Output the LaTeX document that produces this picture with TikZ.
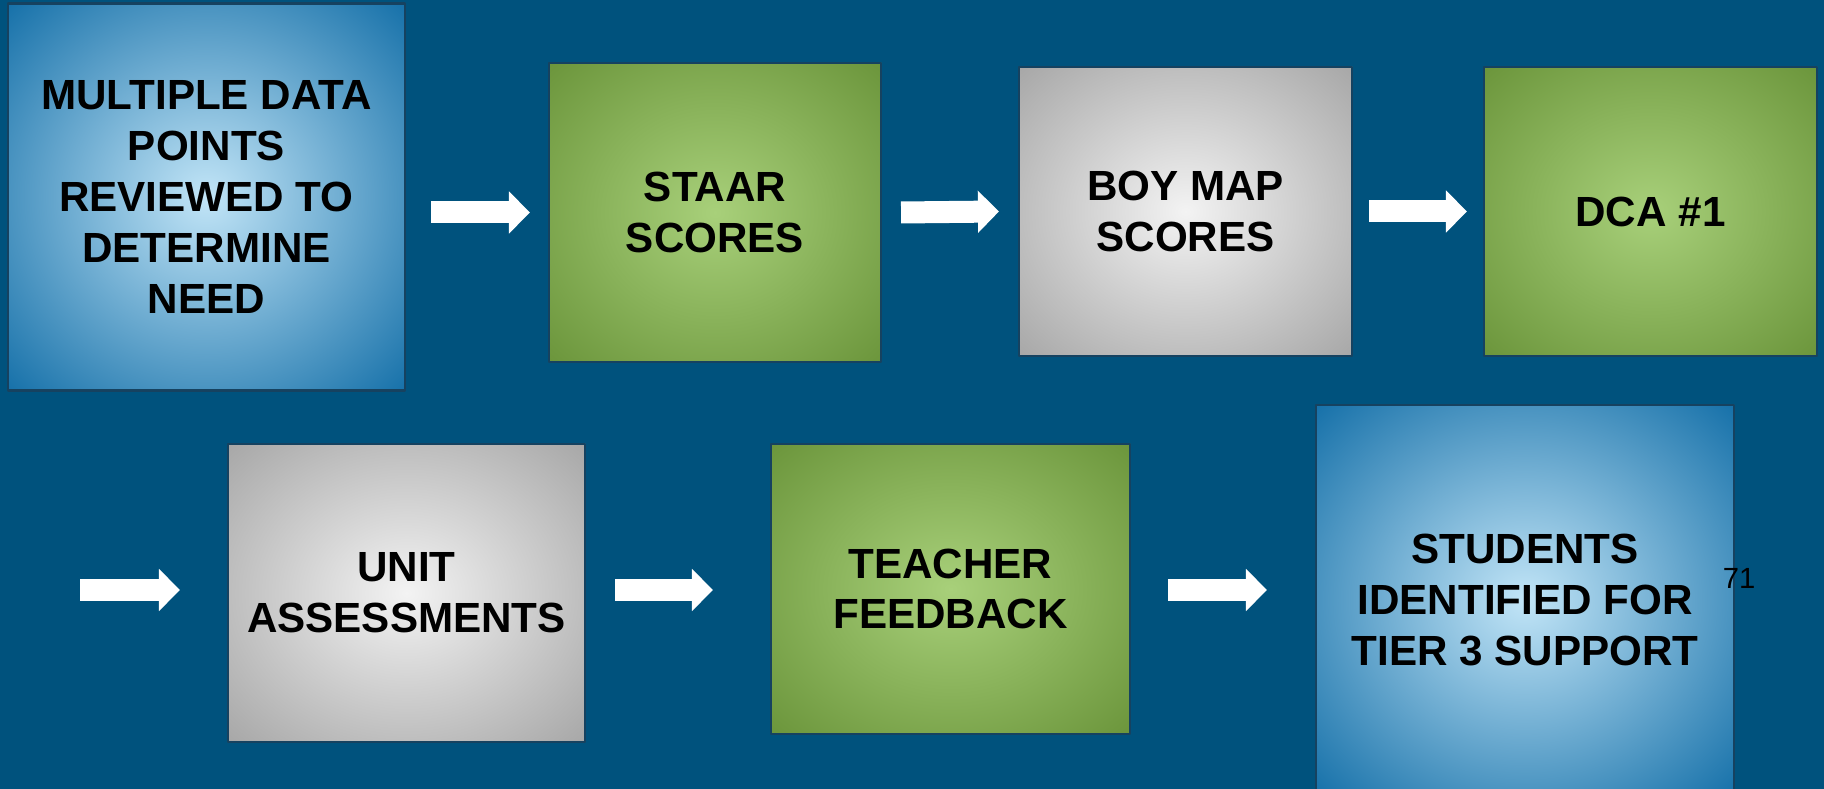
\documentclass[tikz,border=0pt]{standalone}
\usepackage{fontspec}
\setmainfont{Liberation Sans}
\usetikzlibrary{arrows.meta}
\definecolor{slidebg}{RGB}{0,82,125}
\definecolor{boxline}{RGB}{22,66,96}
\definecolor{blueinner}{RGB}{194,229,247}
\definecolor{blueouter}{RGB}{24,114,170}
\definecolor{greeninner}{RGB}{168,208,122}
\definecolor{greenouter}{RGB}{108,150,60}
\definecolor{grayinner}{RGB}{243,243,243}
\definecolor{grayouter}{RGB}{168,168,168}
\pgfdeclareradialshading{blueglow}{\pgfpointorigin}{color(0bp)=(blueinner); color(35bp)=(blueouter); color(50bp)=(blueouter)}
\pgfdeclareradialshading{greenglow}{\pgfpointorigin}{color(0bp)=(greeninner); color(35bp)=(greenouter); color(50bp)=(greenouter)}
\pgfdeclareradialshading{grayglow}{\pgfpointorigin}{color(0bp)=(grayinner); color(35bp)=(grayouter); color(50bp)=(grayouter)}
\begin{document}
\begin{tikzpicture}[line join=round, font=\bfseries\fontsize{12}{14.5}\selectfont,
    box/.style={draw=boxline, line width=.6pt, shade, inner sep=0pt, align=center, text=black},
    blockarrow/.style={white, line width=2.2mm, -{Triangle[length=2.1mm,width=4.1mm]}}]
    \clip (0,0) rectangle (18.24,-7.89);
    \fill[slidebg] (0,0) rectangle (18.24,-7.89);
    % top row
    \node[box, shading=blueglow, minimum width=3.97cm, minimum height=3.87cm] (need) at (2.065,-1.97) {MULTIPLE DATA\\POINTS\\REVIEWED TO\\DETERMINE\\NEED};
    \node[box, shading=greenglow, minimum width=3.32cm, minimum height=2.99cm] (staar) at (7.15,-2.125) {STAAR\\SCORES};
    \node[box, shading=grayglow, minimum width=3.33cm, minimum height=2.89cm] (boymap) at (11.855,-2.115) {BOY MAP\\SCORES};
    \node[box, shading=greenglow, minimum width=3.33cm, minimum height=2.89cm] (dca) at (16.505,-2.115) {DCA \#1};
    % bottom row
    \node[box, shading=grayglow, minimum width=3.57cm, minimum height=2.98cm] (unit) at (4.065,-5.93) {UNIT\\ASSESSMENTS};
    \node[box, shading=greenglow, minimum width=3.59cm, minimum height=2.90cm] (teacher) at (9.505,-5.89) {TEACHER\\FEEDBACK};
    \node[box, shading=blueglow, minimum width=4.18cm, minimum height=3.90cm] (tier) at (15.25,-6.0) {STUDENTS\\IDENTIFIED FOR\\TIER 3 SUPPORT};
    \node[font=\mdseries\fontsize{8.3}{10}\selectfont, inner sep=0pt] (pagenum) at (17.39,-5.78) {71};
    \coordinate (rowstart) at (0.80,-5.90);
    % arrows
    \draw[blockarrow] ([xshift=2.5mm]need.east |- staar.west) -- ([xshift=-1.8mm]staar.west);
    \draw[blockarrow] ([xshift=1.9mm]staar.east) -- ([xshift=-1.9mm]boymap.west);
    \draw[blockarrow] ([xshift=1.6mm]boymap.east) -- ([xshift=-1.6mm]dca.west);
    \draw[blockarrow] (rowstart) -- ([xshift=-4.7mm]unit.west |- rowstart);
    \draw[blockarrow] ([xshift=2.9mm]unit.east |- rowstart) -- ([xshift=-5.7mm]teacher.west |- rowstart);
    \draw[blockarrow] ([xshift=3.7mm]teacher.east |- rowstart) -- ([xshift=-4.8mm]tier.west |- rowstart);
\end{tikzpicture}
\end{document}
